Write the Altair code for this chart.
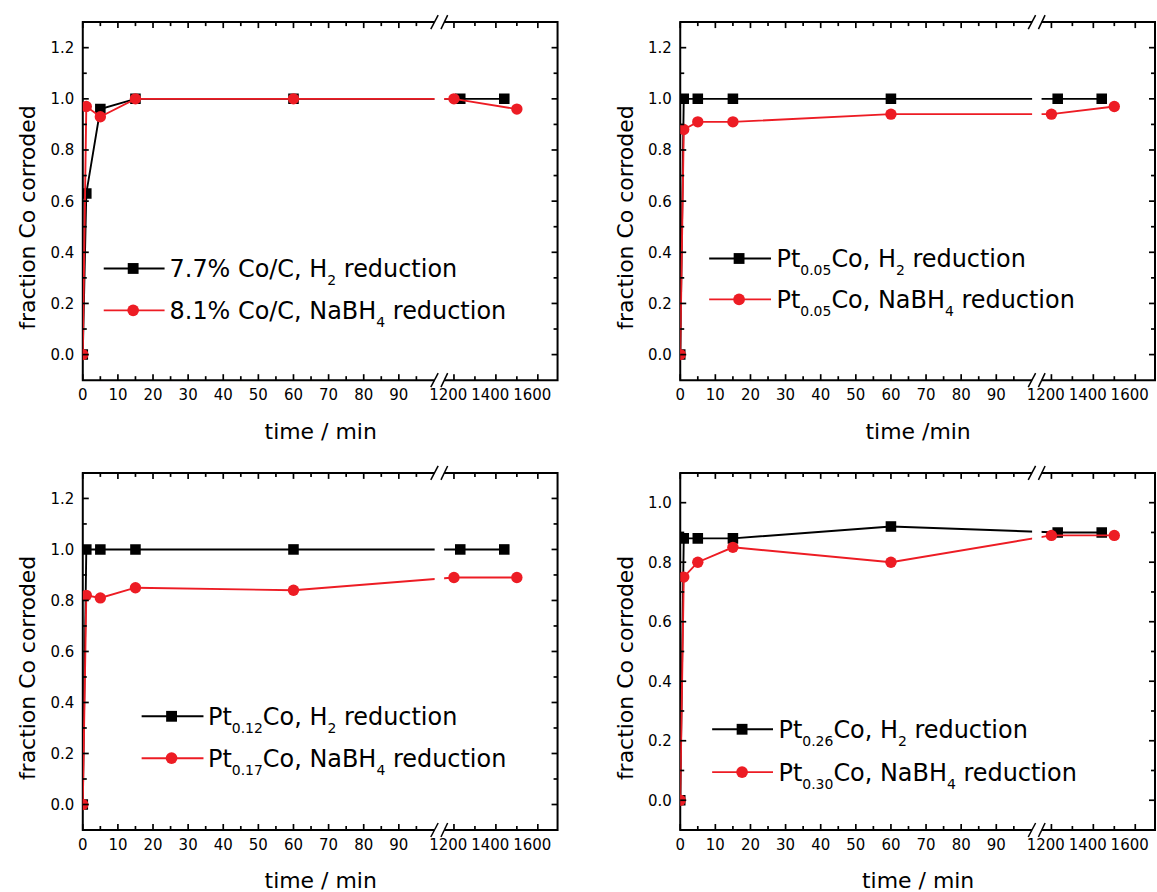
import altair as alt
import pandas as pd

FONT = "DejaVu Sans"
RED = "#ED1C24"
BLACK = "#000000"

# ---------------- data ----------------
T_H2 = [0, 1, 5, 15, 60, 1230, 1440]
T_NABH4 = [0, 1, 5, 15, 60, 1200, 1500]

A_H2 = [0.0, 0.63, 0.96, 1.0, 1.0, 1.0, 1.0]
A_NABH4 = [0.0, 0.97, 0.93, 1.0, 1.0, 1.0, 0.96]
B_H2 = [0.0, 1.0, 1.0, 1.0, 1.0, 1.0, 1.0]
B_NABH4 = [0.0, 0.88, 0.91, 0.91, 0.94, 0.94, 0.97]
C_H2 = [0.0, 1.0, 1.0, 1.0, 1.0, 1.0, 1.0]
C_NABH4 = [0.0, 0.82, 0.81, 0.85, 0.84, 0.89, 0.89]
D_H2 = [0.0, 0.88, 0.88, 0.88, 0.92, 0.90, 0.90]
D_NABH4 = [0.0, 0.75, 0.80, 0.85, 0.80, 0.89, 0.89]

X_LABELS = [0, 10, 20, 30, 40, 50, 60, 70, 80, 90, 1200, 1400, 1600]
X_MINOR = [5, 15, 25, 35, 45, 55, 65, 75, 85, 95, 1300, 1500]
Y_MAJOR_12 = [0.0, 0.2, 0.4, 0.6, 0.8, 1.0, 1.2]
Y_MINOR_12 = [0.1, 0.3, 0.5, 0.7, 0.9, 1.1]
Y_MAJOR_10 = [0.0, 0.2, 0.4, 0.6, 0.8, 1.0]
Y_MINOR_10 = [0.1, 0.3, 0.5, 0.7, 0.9]

LEG_A = [[("7.7% Co/C, H", 0), ("2", 1), (" reduction", 0)],
         [("8.1% Co/C, NaBH", 0), ("4", 1), (" reduction", 0)]]
LEG_B = [[("Pt", 0), ("0.05", 1), ("Co, H", 0), ("2", 1), (" reduction", 0)],
         [("Pt", 0), ("0.05", 1), ("Co, NaBH", 0), ("4", 1), (" reduction", 0)]]
LEG_C = [[("Pt", 0), ("0.12", 1), ("Co, H", 0), ("2", 1), (" reduction", 0)],
         [("Pt", 0), ("0.17", 1), ("Co, NaBH", 0), ("4", 1), (" reduction", 0)]]
LEG_D = [[("Pt", 0), ("0.26", 1), ("Co, H", 0), ("2", 1), (" reduction", 0)],
         [("Pt", 0), ("0.30", 1), ("Co, NaBH", 0), ("4", 1), (" reduction", 0)]]

Y_TITLE = "fraction Co corroded"

# ---------------- broken x axis mapping ----------------
SPLIT = 500
P1200 = 105.7
K = 0.0597
PMAX = 135.2
GAP = (100.2, 102.9)
SLASHES = [(99.1, 101.2), (102.0, 103.9)]
EXPR = f"datum.t <= {SPLIT} ? datum.t : {P1200} + (datum.t - 1200) * {K}"
LABEL_SHIFT = 1.6  # right-hand tick labels sit a little left of their ticks

W = 476
ONE = pd.DataFrame({"k": [0]})

DV = {' ': 0.318, '%': 0.950, ',': 0.318, '.': 0.318, '/': 0.337, 'B': 0.686,
      'C': 0.698, 'H': 0.752, 'N': 0.748, 'P': 0.603, 'a': 0.613, 'c': 0.550,
      'd': 0.635, 'e': 0.615, 'i': 0.278, 'n': 0.634, 'o': 0.612, 'r': 0.411,
      't': 0.392, 'u': 0.634}
for _d in "0123456789":
    DV[_d] = 0.636

FS_MAIN = 24
FS_SUB = 14
SUB_DROP = 8
FS_TICK = 15
FS_TITLE = 22
LW = 1.9


def text_w(s, fs):
    return sum(DV.get(c, 0.6) for c in s) * fs


def panel(h2, nabh4, ydom, ymaj, ymin, legend_rows, leg, xtitle, H):
    df = pd.DataFrame({
        "series": ["H2"] * len(T_H2) + ["NaBH4"] * len(T_NABH4),
        "t": T_H2 + T_NABH4,
        "y": h2 + nabh4,
    })
    xs = alt.Scale(domain=[0, PMAX], nice=False, zero=False)
    ys = alt.Scale(domain=ydom, nice=False, zero=False)
    xaxis = alt.Axis(labels=False, ticks=False, tickSize=0, domain=False, grid=False,
                     title=xtitle, titleFont=FONT, titleFontSize=FS_TITLE,
                     titleFontWeight="normal", titleColor="black", titleX=W / 2,
                     titleY=58, titleBaseline="alphabetic", titleAlign="center")
    yaxis = alt.Axis(values=ymaj, format=".1f", ticks=False, tickSize=0, domain=False,
                     grid=False, labelPadding=9, labelFont=FONT, labelFontSize=FS_TICK,
                     labelColor="black", labelOverlap=False, labelFlush=False,
                     title=Y_TITLE, titleFont=FONT,
                     titleFontSize=FS_TITLE, titleFontWeight="normal", titleColor="black",
                     titleX=-48, titleY=H / 2 + 16, titleAngle=270,
                     titleBaseline="alphabetic", titleAlign="center")
    X = lambda: alt.X("p:Q", scale=xs)
    Y = lambda: alt.Y("y:Q", scale=ys)

    base = alt.Chart(df).transform_calculate(p=EXPR)
    layers = []
    first = True
    for s, color, shape, size in [("H2", BLACK, "square", 112), ("NaBH4", RED, "circle", 130)]:
        sub = base.transform_filter(alt.datum.series == s)
        if first:
            enc = dict(x=alt.X("p:Q", scale=xs, axis=xaxis), y=alt.Y("y:Q", scale=ys, axis=yaxis))
            first = False
        else:
            enc = dict(x=X(), y=Y())
        layers.append(sub.mark_line(color=color, strokeWidth=LW, clip=True).encode(**enc))
        layers.append(sub.mark_point(shape=shape, filled=True, size=size, color=color,
                                     opacity=1, clip=True).encode(x=X(), y=Y()))

    # axis break: white band and // marks
    layers.append(alt.Chart(ONE).mark_rect(color="white").encode(
        x=alt.XDatum(GAP[0], scale=xs, type="quantitative"), x2=alt.X2Datum(GAP[1]),
        y=alt.value(-3), y2=alt.value(H + 3)))
    for a, b in SLASHES:
        for yc in (0, H):
            layers.append(alt.Chart(ONE).mark_rule(color="black", strokeWidth=1.5).encode(
                x=alt.XDatum(a, scale=xs, type="quantitative"), x2=alt.X2Datum(b),
                y=alt.value(yc + 7), y2=alt.value(yc - 7)))

    # inward ticks
    for vals, ln in ((ymaj, 6), (ymin, 4)):
        tdf = pd.DataFrame({"y": vals})
        layers.append(alt.Chart(tdf).mark_rule(color="black", strokeWidth=1.7).encode(
            y=Y(), x=alt.value(0), x2=alt.value(ln)))
        layers.append(alt.Chart(tdf).mark_rule(color="black", strokeWidth=1.7).encode(
            y=Y(), x=alt.value(W - ln), x2=alt.value(W)))
    for vals, ln in ((X_LABELS, 6), (X_MINOR, 4)):
        tb = alt.Chart(pd.DataFrame({"t": vals})).transform_calculate(p=EXPR)
        layers.append(tb.mark_rule(color="black", strokeWidth=1.7).encode(
            x=X(), y=alt.value(H), y2=alt.value(H - ln)))
        layers.append(tb.mark_rule(color="black", strokeWidth=1.7).encode(
            x=X(), y=alt.value(0), y2=alt.value(ln)))

    # x tick labels of the broken axis
    lab = alt.Chart(pd.DataFrame({"t": X_LABELS})).transform_calculate(
        p=EXPR).transform_calculate(
        p=f"datum.t > {SPLIT} ? datum.p - {LABEL_SHIFT} : datum.p",
        lbl="toString(datum.t)")
    layers.append(lab.mark_text(font=FONT, fontSize=FS_TICK, align="center",
                                baseline="top", color="black").encode(
        x=X(), y=alt.value(H + 8), text="lbl:N"))

    # legend
    for (pieces, color, shape, size), yrow in zip(
            [(legend_rows[0], BLACK, "square", 118), (legend_rows[1], RED, "circle", 138)],
            leg["rows"]):
        layers.append(alt.Chart(ONE).mark_rule(color=color, strokeWidth=LW).encode(
            x=alt.value(leg["x0"]), x2=alt.value(leg["x1"]), y=alt.value(yrow)))
        layers.append(alt.Chart(ONE).mark_point(shape=shape, filled=True, size=size,
                                                color=color, opacity=1).encode(
            x=alt.value(leg["xm"]), y=alt.value(yrow)))
        xcur = leg["xt"]
        base_y = yrow + 8.75
        for txt, is_sub in pieces:
            fs = FS_SUB if is_sub else FS_MAIN
            stripped = txt.lstrip(" ")
            xcur += text_w(txt[: len(txt) - len(stripped)], fs)
            layers.append(alt.Chart(ONE).mark_text(
                text=stripped, font=FONT, fontSize=fs, align="left",
                baseline="alphabetic", color="black").encode(
                x=alt.value(xcur), y=alt.value(base_y + (SUB_DROP if is_sub else 0))))
            xcur += text_w(stripped, fs)

    return alt.layer(*layers).properties(width=W, height=H)


p1 = panel(A_H2, A_NABH4, [-0.1, 1.3], Y_MAJOR_12, Y_MINOR_12, LEG_A,
           dict(x0=21, x1=82, xm=50.5, xt=87, rows=[247, 289]), "time / min", 359)
p2 = panel(B_H2, B_NABH4, [-0.1, 1.3], Y_MAJOR_12, Y_MINOR_12, LEG_B,
           dict(x0=29, x1=91, xm=59, xt=96.5, rows=[237, 278]), "time /min", 359)
p3 = panel(C_H2, C_NABH4, [-0.1, 1.3], Y_MAJOR_12, Y_MINOR_12, LEG_C,
           dict(x0=59, x1=121, xm=89, xt=125.5, rows=[244, 286]), "time / min", 358)
p4 = panel(D_H2, D_NABH4, [-0.1, 1.1], Y_MAJOR_10, Y_MINOR_10, LEG_D,
           dict(x0=32, x1=93, xm=62, xt=98.5, rows=[257, 300]), "time / min", 358)

chart = alt.concat(p1, p2, p3, p4, columns=2, spacing={"row": 93, "column": 123},
                   bounds="flush").properties(
    padding={"left": 16, "top": 12, "right": 0, "bottom": 0},
    background="white",
).configure_view(stroke="black", strokeWidth=2).configure_axis(labelOverlap=False)

chart.save("out.html", embed_options={"renderer": "svg", "actions": False})
